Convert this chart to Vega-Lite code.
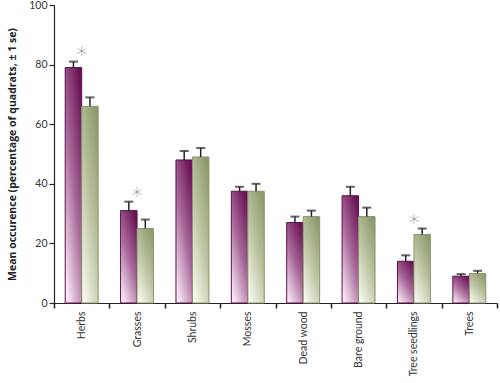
{
  "$schema": "https://vega.github.io/schema/vega-lite/v6.json",
  "width": 443,
  "height": 298,
  "autosize": "none",
  "padding": {"left": 54, "top": 5, "right": 3, "bottom": 80},
  "background": "white",
  "config": {
    "view": {"stroke": null},
    "font": "Lato",
    "axis": {"labelFont": "Lato", "titleFont": "Open Sans", "domainColor": "#222", "tickColor": "#222", "labelColor": "#333", "titleColor": "#222", "grid": false}
  },
  "datasets": {
    "bars": [
      {"cat": "Herbs", "group": "A", "mean": 79, "upper": 81},
      {"cat": "Herbs", "group": "B", "mean": 66, "upper": 69},
      {"cat": "Grasses", "group": "A", "mean": 31, "upper": 34},
      {"cat": "Grasses", "group": "B", "mean": 25, "upper": 28},
      {"cat": "Shrubs", "group": "A", "mean": 48, "upper": 51},
      {"cat": "Shrubs", "group": "B", "mean": 49, "upper": 52},
      {"cat": "Mosses", "group": "A", "mean": 37.5, "upper": 39},
      {"cat": "Mosses", "group": "B", "mean": 37.5, "upper": 40},
      {"cat": "Dead wood", "group": "A", "mean": 27, "upper": 29},
      {"cat": "Dead wood", "group": "B", "mean": 29, "upper": 31},
      {"cat": "Bare ground", "group": "A", "mean": 36, "upper": 39},
      {"cat": "Bare ground", "group": "B", "mean": 29, "upper": 32},
      {"cat": "Tree seedlings", "group": "A", "mean": 14, "upper": 16},
      {"cat": "Tree seedlings", "group": "B", "mean": 23, "upper": 25},
      {"cat": "Trees", "group": "A", "mean": 9, "upper": 9.7},
      {"cat": "Trees", "group": "B", "mean": 9.9, "upper": 10.8}
    ],
    "stars": [
      {"cat": "Herbs", "y": 85},
      {"cat": "Grasses", "y": 37.5},
      {"cat": "Tree seedlings", "y": 28.5}
    ]
  },
  "encoding": {
    "x": {
      "field": "cat", "type": "nominal", "sort": null,
      "scale": {"domain": ["Herbs", "Grasses", "Shrubs", "Mosses", "Dead wood", "Bare ground", "Tree seedlings", "Trees"], "paddingInner": 0, "paddingOuter": 0},
      "axis": {"title": null, "labelAngle": -90, "labelFontSize": 10.5, "tickSize": 5, "tickBand": "extent", "labelPadding": 3, "domainWidth": 1.2, "tickWidth": 1.5}
    }
  },
  "layer": [
    {
      "data": {"name": "bars"},
      "transform": [{"filter": "datum.group === 'A'"}],
      "mark": {
        "type": "bar", "stroke": "#5c0f4a", "strokeWidth": 1,
        "fill": {"gradient": "linear", "x1": 0.8, "y1": 0, "x2": 0.2, "y2": 1,
          "stops": [{"offset": 0, "color": "#6a1255"}, {"offset": 0.5, "color": "#a8699a"}, {"offset": 1, "color": "#f8e6f4"}]}
      },
      "encoding": {
        "xOffset": {"field": "group", "scale": {"domain": ["A", "B"], "paddingInner": 0, "paddingOuter": 0.68}},
        "y": {"field": "mean", "type": "quantitative", "scale": {"domain": [0, 100], "nice": false},
          "axis": {"title": "Mean occurence (percentage of quadrats, ± 1 se)", "titleFontSize": 10.5, "titleFontWeight": "bold", "titlePadding": 11, "values": [0, 20, 40, 60, 80, 100], "labelFontSize": 10.5, "tickSize": 5, "labelPadding": 2, "domainWidth": 1.2, "tickWidth": 1.2}}
      }
    },
    {
      "data": {"name": "bars"},
      "transform": [{"filter": "datum.group === 'B'"}],
      "mark": {
        "type": "bar", "stroke": "#8a9670", "strokeWidth": 1,
        "fill": {"gradient": "linear", "x1": 0.8, "y1": 0, "x2": 0.2, "y2": 1,
          "stops": [{"offset": 0, "color": "#8c9a6c"}, {"offset": 0.5, "color": "#bcc4a2"}, {"offset": 1, "color": "#f6f6ea"}]}
      },
      "encoding": {
        "xOffset": {"field": "group", "scale": {"domain": ["A", "B"], "paddingInner": 0, "paddingOuter": 0.68}},
        "y": {"field": "mean", "type": "quantitative"}
      }
    },
    {
      "data": {"name": "bars"},
      "mark": {"type": "rule", "color": "#222", "strokeWidth": 1.5},
      "encoding": {
        "xOffset": {"field": "group", "scale": {"domain": ["A", "B"], "paddingInner": 0, "paddingOuter": 0.68}},
        "y": {"field": "mean", "type": "quantitative"},
        "y2": {"field": "upper"}
      }
    },
    {
      "data": {"name": "bars"},
      "mark": {"type": "tick", "color": "#222", "thickness": 2, "size": 9},
      "encoding": {
        "xOffset": {"field": "group", "scale": {"domain": ["A", "B"], "paddingInner": 0, "paddingOuter": 0.68}},
        "y": {"field": "upper", "type": "quantitative"}
      }
    },
    {
      "data": {"name": "stars"},
      "mark": {"type": "text", "text": "*", "font": "DejaVu Sans", "fontWeight": 300, "fontSize": 22, "fill": "#8c8c8c", "baseline": "middle", "dy": 5},
      "encoding": {
        "y": {"field": "y", "type": "quantitative"}
      }
    }
  ]
}
